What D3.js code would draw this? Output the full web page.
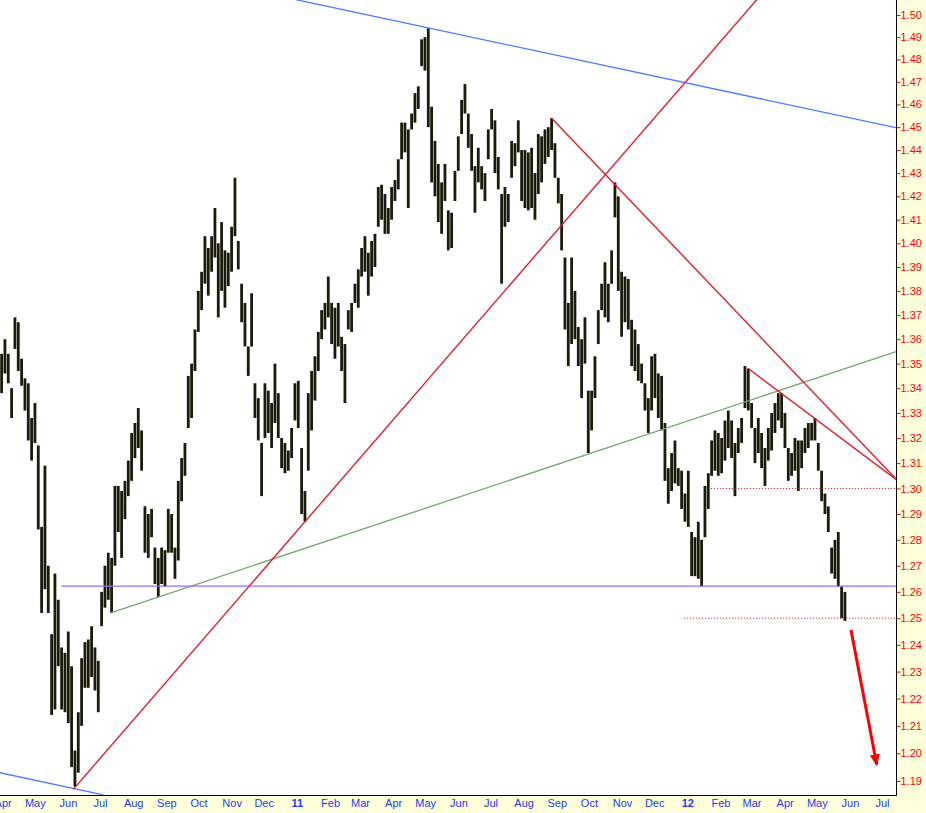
<!DOCTYPE html>
<html>
<head>
<meta charset="utf-8">
<script src="https://cdnjs.cloudflare.com/ajax/libs/d3/7.8.5/d3.min.js"></script>
<style>
    body { margin: 0; background: #ffffdc; }
    svg { display: block; }
    .axis text { font-family: "Liberation Sans", Arial, sans-serif; font-size: 11px; }
</style>
</head>
<body>
<div class="graph"></div>
<script>
/* Price bars (about one bar every two trading days) */
const bar_high = [
    1.354, 1.360, 1.354, 1.340, 1.369, 1.367, 1.352, 1.344, 1.342, 1.328,
    1.334, 1.317, 1.285, 1.309, 1.270, 1.244, 1.267, 1.257, 1.239, 1.237,
    1.245, 1.232, 1.201, 1.215, 1.235, 1.241, 1.242, 1.247, 1.239, 1.234,
    1.260, 1.270, 1.275, 1.273, 1.301, 1.301, 1.299, 1.303, 1.311, 1.322,
    1.326, 1.332, 1.323, 1.293, 1.290, 1.292, 1.277, 1.273, 1.277, 1.276,
    1.292, 1.290, 1.277, 1.303, 1.312, 1.318, 1.345, 1.350, 1.364, 1.380,
    1.388, 1.403, 1.398, 1.403, 1.415, 1.400, 1.409, 1.397, 1.396, 1.407,
    1.428, 1.401, 1.383, 1.375, 1.357, 1.379, 1.342, 1.336, 1.318, 1.342,
    1.339, 1.334, 1.350, 1.338, 1.320, 1.318, 1.315, 1.324, 1.342, 1.343,
    1.316, 1.299, 1.338, 1.347, 1.353, 1.363, 1.372, 1.375, 1.386, 1.375,
    1.373, 1.375, 1.361, 1.358, 1.372, 1.375, 1.383, 1.389, 1.398, 1.403,
    1.396, 1.401, 1.404, 1.424, 1.425, 1.421, 1.415, 1.424, 1.427, 1.436,
    1.452, 1.452, 1.449, 1.456, 1.465, 1.468, 1.489, 1.490, 1.494, 1.459,
    1.444, 1.434, 1.426, 1.434, 1.414, 1.413, 1.431, 1.446, 1.462, 1.469,
    1.456, 1.447, 1.433, 1.441, 1.433, 1.430, 1.449, 1.458, 1.453, 1.437,
    1.421, 1.424, 1.421, 1.444, 1.443, 1.453, 1.440, 1.440, 1.439, 1.441,
    1.430, 1.447, 1.446, 1.449, 1.450, 1.454, 1.443, 1.428, 1.421, 1.394,
    1.375, 1.394, 1.380, 1.365, 1.360, 1.369, 1.339, 1.339, 1.353, 1.372,
    1.383, 1.392, 1.383, 1.397, 1.426, 1.420, 1.388, 1.386, 1.385, 1.368,
    1.364, 1.358, 1.350, 1.342, 1.336, 1.353, 1.354, 1.346, 1.345, 1.326,
    1.308, 1.314, 1.319, 1.308, 1.307, 1.298, 1.307, 1.283, 1.281, 1.287,
    1.280, 1.301, 1.306, 1.319, 1.323, 1.322, 1.320, 1.327, 1.331, 1.327,
    1.318, 1.324, 1.328, 1.349, 1.348, 1.334, 1.324, 1.328, 1.322, 1.316,
    1.324, 1.330, 1.334, 1.338, 1.338, 1.330, 1.316, 1.314, 1.320, 1.319,
    1.319, 1.324, 1.326, 1.326, 1.328, 1.318, 1.307, 1.298, 1.293, 1.277,
    1.280, 1.283, 1.262, 1.260
];
const bar_low = [
    1.338, 1.346, 1.342, 1.328, 1.356, 1.347, 1.341, 1.331, 1.319, 1.311,
    1.318, 1.284, 1.252, 1.261, 1.252, 1.214, 1.216, 1.232, 1.216, 1.215,
    1.211, 1.195, 1.188, 1.193, 1.210, 1.224, 1.224, 1.228, 1.223, 1.215,
    1.247, 1.254, 1.257, 1.252, 1.270, 1.283, 1.273, 1.288, 1.297, 1.303,
    1.312, 1.316, 1.307, 1.275, 1.273, 1.281, 1.263, 1.258, 1.263, 1.262,
    1.275, 1.275, 1.265, 1.272, 1.295, 1.305, 1.324, 1.328, 1.347, 1.363,
    1.372, 1.383, 1.378, 1.388, 1.394, 1.369, 1.380, 1.373, 1.382, 1.388,
    1.403, 1.389, 1.367, 1.357, 1.345, 1.357, 1.328, 1.319, 1.297, 1.320,
    1.322, 1.316, 1.326, 1.320, 1.308, 1.306, 1.307, 1.312, 1.327, 1.324,
    1.290, 1.287, 1.307, 1.323, 1.335, 1.347, 1.360, 1.364, 1.369, 1.358,
    1.352, 1.357, 1.347, 1.334, 1.364, 1.363, 1.375, 1.373, 1.386, 1.388,
    1.378, 1.386, 1.390, 1.407, 1.410, 1.404, 1.404, 1.410, 1.418, 1.423,
    1.436, 1.439, 1.415, 1.449, 1.452, 1.458, 1.477, 1.475, 1.450, 1.426,
    1.420, 1.409, 1.404, 1.418, 1.397, 1.398, 1.418, 1.431, 1.447, 1.456,
    1.441, 1.431, 1.413, 1.426, 1.423, 1.418, 1.436, 1.449, 1.430, 1.423,
    1.383, 1.407, 1.409, 1.428, 1.433, 1.439, 1.418, 1.415, 1.414, 1.415,
    1.410, 1.421, 1.426, 1.434, 1.437, 1.440, 1.428, 1.417, 1.397, 1.364,
    1.349, 1.358, 1.360, 1.349, 1.336, 1.350, 1.314, 1.323, 1.336, 1.358,
    1.372, 1.369, 1.367, 1.383, 1.411, 1.380, 1.361, 1.367, 1.364, 1.349,
    1.347, 1.343, 1.342, 1.331, 1.322, 1.331, 1.336, 1.328, 1.323, 1.303,
    1.294, 1.299, 1.302, 1.301, 1.292, 1.287, 1.285, 1.266, 1.266, 1.265,
    1.262, 1.281, 1.292, 1.305, 1.307, 1.305, 1.306, 1.311, 1.316, 1.312,
    1.297, 1.314, 1.318, 1.332, 1.331, 1.324, 1.310, 1.314, 1.308, 1.301,
    1.311, 1.315, 1.322, 1.327, 1.324, 1.316, 1.303, 1.305, 1.307, 1.299,
    1.308, 1.314, 1.316, 1.319, 1.319, 1.307, 1.295, 1.290, 1.283, 1.267,
    1.265, 1.262, 1.250, 1.249
];
const first_bar = new Date(2010, 2, 31);
const bar_days = 3.116;

/* Axis labels */
const price_ticks = [
    1.19, 1.20, 1.21, 1.22, 1.23, 1.24, 1.25, 1.26, 1.27, 1.28, 1.29, 1.30,
    1.31, 1.32, 1.33, 1.34, 1.35, 1.36, 1.37, 1.38, 1.39, 1.40, 1.41, 1.42,
    1.43, 1.44, 1.45, 1.46, 1.47, 1.48, 1.49, 1.50
];
const month_ticks = [
    "2010-04-01", "2010-05-01", "2010-06-01", "2010-07-01", "2010-08-01", "2010-09-01",
    "2010-10-01", "2010-11-01", "2010-12-01", "2011-01-01", "2011-02-01", "2011-03-01",
    "2011-04-01", "2011-05-01", "2011-06-01", "2011-07-01", "2011-08-01", "2011-09-01",
    "2011-10-01", "2011-11-01", "2011-12-01", "2012-01-01", "2012-02-01", "2012-03-01",
    "2012-04-01", "2012-05-01", "2012-06-01", "2012-07-01"
];
const month_labels = [
    "Apr", "May", "Jun", "Jul", "Aug", "Sep", "Oct", "Nov", "Dec", "11", "Feb", "Mar",
    "Apr", "May", "Jun", "Jul", "Aug", "Sep", "Oct", "Nov", "Dec", "12", "Feb", "Mar",
    "Apr", "May", "Jun", "Jul"
];

/* Drawn trend lines: [date, price] end points */
const blue_lines = [
    [["2010-12-31", 1.507], ["2012-07-15", 1.4497]],
    [["2010-03-29", 1.193], ["2010-07-04", 1.185]]
];
const red_lines = [
    [["2010-06-06", 1.187], ["2012-03-06", 1.507]],
    [["2011-08-27", 1.454], ["2012-07-15", 1.3033]],
    [["2012-02-27", 1.348], ["2012-07-15", 1.3033]]
];
const green_lines = [
    [["2010-07-11", 1.252], ["2012-07-15", 1.355]]
];
const purple_lines = [
    [["2010-05-26", 1.2622], ["2012-07-15", 1.2622]]
];
const dotted_lines = [
    [["2012-01-23", 1.30], ["2012-07-15", 1.30]],
    [["2011-12-29", 1.25], ["2012-07-15", 1.25]]
];
const target_arrow = [["2012-06-02", 1.2456], ["2012-06-26", 1.196]];

/* Configuration */
const svg_dimensions = {
    width: 926,
    height: 813,
    plot_right: 896.5,
    plot_bottom: 795.5
};

const parse_date = d3.timeParse("%Y-%m-%d");

const x_scale = d3.scaleTime()
    .domain([new Date(2010, 2, 29, 12), new Date(2012, 6, 15)])
    .range([0, 897]);

const y_scale = d3.scaleLog()
    .domain([1.19, 1.50])
    .range([781, 15]);

const bar_date = (i) => new Date(first_bar.getTime() + i * bar_days * 864e5);

/* Rendering */
const svg = d3.select(".graph")
    .append("svg")
    .attr("width", svg_dimensions.width)
    .attr("height", svg_dimensions.height);

svg.append("rect")
    .attr("width", svg_dimensions.width)
    .attr("height", svg_dimensions.height)
    .attr("fill", "#ffffdc");

svg.append("rect")
    .attr("width", svg_dimensions.plot_right)
    .attr("height", svg_dimensions.plot_bottom)
    .attr("fill", "#ffffff");

svg.append("clipPath")
    .attr("id", "plot-clip")
    .append("rect")
    .attr("width", svg_dimensions.plot_right)
    .attr("height", svg_dimensions.plot_bottom);

const plot = svg.append("g").attr("clip-path", "url(#plot-clip)");

plot.append("g")
    .selectAll("rect")
    .data(bar_high)
    .enter().append("rect")
    .attr("x", (d, i) => x_scale(bar_date(i)) - 1.4)
    .attr("y", (d) => y_scale(d))
    .attr("width", 2.8)
    .attr("height", (d, i) => Math.max(1, y_scale(bar_low[i]) - y_scale(d)))
    .attr("fill", "#1b1b0c");

const line_gen = d3.line()
    .x((p) => x_scale(parse_date(p[0])))
    .y((p) => y_scale(p[1]));

const draw_lines = (lines, color, width, dash) => {
    plot.append("g")
        .selectAll("path")
        .data(lines)
        .enter().append("path")
        .attr("d", line_gen)
        .attr("fill", "none")
        .attr("stroke", color)
        .attr("stroke-width", width)
        .attr("stroke-dasharray", dash);
};

draw_lines(blue_lines, "#4a7dff", 1.3, null);
draw_lines(green_lines, "#76a576", 1.3, null);
draw_lines(purple_lines, "#9a6cf0", 1.3, null);
draw_lines(dotted_lines, "#cc1010", 1, "1,2");
draw_lines(red_lines, "#e01e2c", 1.4, null);

svg.append("defs").append("marker")
    .attr("id", "arrow-head")
    .attr("markerUnits", "userSpaceOnUse")
    .attr("viewBox", "0 0 12 12")
    .attr("refX", 10)
    .attr("refY", 6)
    .attr("markerWidth", 12)
    .attr("markerHeight", 12)
    .attr("orient", "auto")
    .append("path")
    .attr("d", "M0,1 L12,6 L0,11 Z")
    .attr("fill", "#ff0000");

plot.append("path")
    .attr("d", line_gen(target_arrow))
    .attr("fill", "none")
    .attr("stroke", "#ff0000")
    .attr("stroke-width", 3)
    .attr("marker-end", "url(#arrow-head)");

/* Axes */
const y_axis = d3.axisRight(y_scale)
    .tickValues(price_ticks)
    .tickFormat(d3.format(".2f"))
    .tickSize(4)
    .tickPadding(0);

svg.append("g")
    .attr("class", "axis")
    .attr("transform", "translate(" + svg_dimensions.plot_right + ",0)")
    .call(y_axis)
    .call((g) => g.select(".domain").remove())
    .call((g) => g.selectAll(".tick line").attr("stroke", "#ff0000"))
    .call((g) => g.selectAll(".tick text").attr("fill", "#ff0000"));

const x_axis = d3.axisBottom(x_scale)
    .tickValues(month_ticks.map(parse_date))
    .tickFormat((d, i) => month_labels[i])
    .tickSize(0)
    .tickPadding(3.5);

svg.append("g")
    .attr("class", "axis")
    .attr("transform", "translate(0," + svg_dimensions.plot_bottom + ")")
    .call(x_axis)
    .call((g) => g.select(".domain").remove())
    .call((g) => g.selectAll(".tick text")
        .attr("fill", "#1a3cf0")
        .attr("font-weight", (d, i) => /^\d+$/.test(month_labels[i]) ? "bold" : null));

svg.append("line")
    .attr("x1", svg_dimensions.plot_right).attr("x2", svg_dimensions.plot_right)
    .attr("y1", 0).attr("y2", svg_dimensions.plot_bottom)
    .attr("stroke", "#000");

svg.append("line")
    .attr("x1", 0).attr("x2", svg_dimensions.plot_right)
    .attr("y1", svg_dimensions.plot_bottom).attr("y2", svg_dimensions.plot_bottom)
    .attr("stroke", "#000");
</script>
</body>
</html>
